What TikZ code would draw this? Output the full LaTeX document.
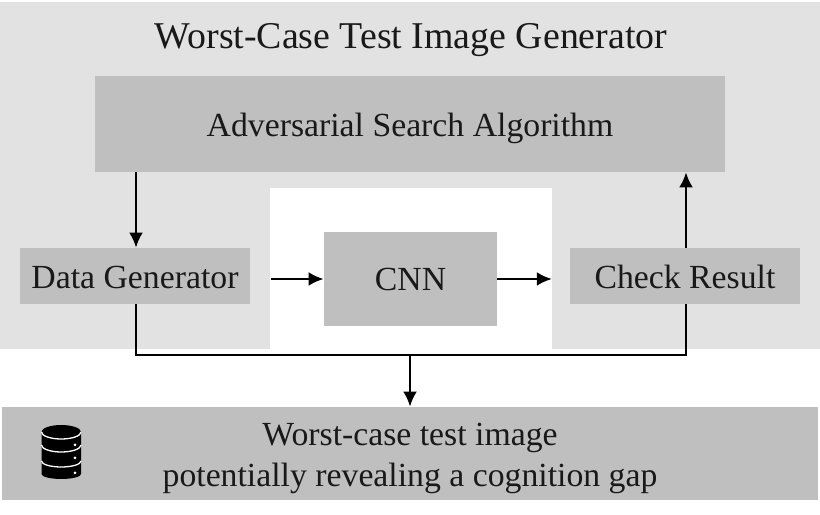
\documentclass[tikz,border=0pt]{standalone}
\usepackage{fontspec}
\setmainfont{Liberation Serif}
\usetikzlibrary{arrows.meta}
\definecolor{panelgray}{HTML}{E2E2E2}
\definecolor{boxgray}{HTML}{BFBFBF}
\tikzset{
  box/.style={fill=boxgray, inner sep=0pt, anchor=center, font=\fontsize{28.8}{35}\selectfont, text=black!90},
  flow/.style={line width=2.4pt, -{Latex[length=13pt,width=12pt]}},
  plain/.style={line width=2.4pt},
}
\newcommand{\lowered}[2]{\raisebox{-#1}[0pt][0pt]{#2}}
\begin{document}
\begin{tikzpicture}[x=.03cm,y=.03cm]
\useasboundingbox (0,0) rectangle (820,515);
\fill[panelgray] (0,166) rectangle (820,513);
\fill[white] (270,166) rectangle (552,327);
\node[font=\fontsize{32.3}{38}\selectfont, text=black!90] (title) at (411,474.5){Worst-Case Test Image Generator};
\node[box, minimum width=18.9cm, minimum height=2.88cm] (search) at (410,391){\lowered{10.8pt}{Adversarial Search Algorithm}};
\node[box, minimum width=6.9cm, minimum height=1.68cm] (datagen) at (135,239){\lowered{10.7pt}{Data Generator}};
\node[box, minimum width=5.19cm, minimum height=2.82cm] (cnn) at (410.5,236){\lowered{10.2pt}{CNN}};
\node[box, minimum width=6.9cm, minimum height=1.68cm] (check) at (685,239){\lowered{10.7pt}{Check Result}};
\node[box, minimum width=24.48cm, minimum height=2.79cm] (result) at (410,61.5){\lowered{10.3pt}{\begin{tabular}{@{}c@{}}Worst-case test image\\potentially revealing a cognition gap\end{tabular}}};
\coordinate (cnnin) at (271,236);
\coordinate (cnnout) at (552,236);
\coordinate (joinl) at (136,160);
\coordinate (joinm) at (410,160);
\coordinate (joinr) at (686,160);
\draw[flow](search.south -| joinl) -- (datagen.north -| joinl);
\draw[flow](cnnin) -- (cnn.west);
\draw[flow](cnn.east) -- (cnnout);
\draw[flow](check.north -| joinr) -- (search.south -| joinr);
\draw[plain](datagen.south -| joinl) -- (joinl) -- (joinr) -- (check.south -| joinr);
\draw[flow](joinm) -- (result.north -| joinm);
% database icon
\fill[black] (41.5,83) -- (41.5,41) arc[start angle=180, end angle=360, x radius=19.75, y radius=5] -- (81,83) arc[start angle=0, end angle=180, x radius=19.75, y radius=7] -- cycle;
\draw[white, line width=1.1pt] (41.5,83) arc[start angle=180, end angle=360, x radius=19.75, y radius=7];
\draw[white, line width=1.1pt] (41.5,70) arc[start angle=180, end angle=360, x radius=19.75, y radius=7];
\draw[white, line width=1.1pt] (41.5,54) arc[start angle=180, end angle=360, x radius=19.75, y radius=6];
\fill[white] (75,70) circle[radius=1.5];
\fill[white] (75,57) circle[radius=1.5];
\fill[white] (75,42) circle[radius=1.5];
\end{tikzpicture}
\end{document}
